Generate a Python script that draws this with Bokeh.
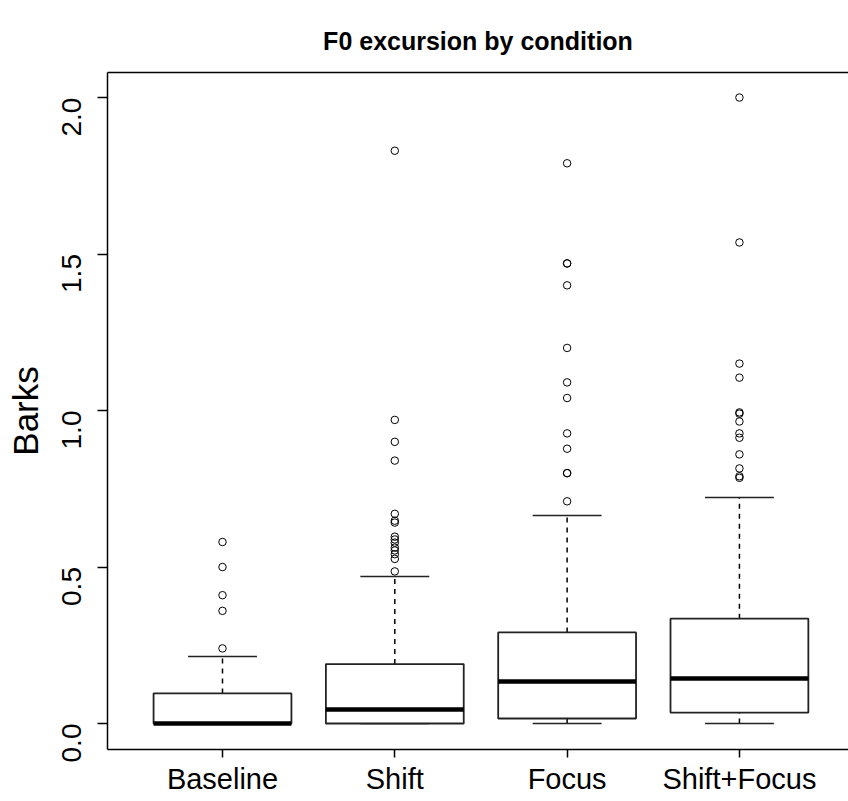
import math
from bokeh.plotting import figure
from bokeh.models import (FixedTicker, PrintfTickFormatter, LinearAxis, Range1d,
                          ColumnDataSource)
from bokeh.embed import file_html
from bokeh.resources import INLINE

# ---- data ----
title_text = "F0 excursion by condition"
categories = ["Baseline", "Shift", "Focus", "Shift+Focus"]
lower_whisker = [0.0, 0.0, 0.0, 0.0]
q1 = [0.0, 0.0, 0.016, 0.035]
median = [0.0, 0.045, 0.134, 0.144]
q3 = [0.096, 0.19, 0.291, 0.335]
upper_whisker = [0.214, 0.47, 0.665, 0.722]

outliers_baseline = [0.58, 0.50, 0.41, 0.36, 0.24]
outliers_shift = [1.83, 0.97, 0.90, 0.84, 0.67, 0.648, 0.642, 0.597, 0.588,
                  0.578, 0.562, 0.553, 0.541, 0.526, 0.486]
outliers_focus = [1.79, 1.47, 1.47, 1.40, 1.20, 1.09, 1.04, 0.927, 0.878,
                  0.80, 0.80, 0.71]
outliers_shiftfocus = [2.0, 1.537, 1.15, 1.105, 0.994, 0.99, 0.965, 0.927,
                       0.913, 0.86, 0.815, 0.79, 0.785]
outliers = [outliers_baseline, outliers_shift, outliers_focus, outliers_shiftfocus]

y_ticks = [0.0, 0.5, 1.0, 1.5, 2.0]

# ---- figure ----
FONT = "Liberation Sans"
p = figure(width=848, height=801, output_backend="svg", toolbar_location=None,
           x_range=Range1d(0.3326, 4.633), y_range=Range1d(-0.083, 2.080),
           min_border_left=107, min_border_right=0, min_border_top=72,
           min_border_bottom=52)
p.grid.visible = False
p.outline_line_color = None
p.background_fill_color = "white"
p.border_fill_color = "white"

p.title.text = title_text
p.title.align = "center"
p.title.vertical_align = "bottom"
p.title.text_font = FONT
p.title.text_font_size = "25px"
p.title.text_font_style = "bold"
p.title.text_color = "black"
p.title.standoff = 36

xs = [i + 1 for i in range(len(categories))]
half = 0.4
cap = 0.2

src = ColumnDataSource(dict(
    x=xs, left=[x - half for x in xs], right=[x + half for x in xs],
    capl=[x - cap for x in xs], capr=[x + cap for x in xs],
    lw=lower_whisker, q1=q1, med=median, q3=q3, uw=upper_whisker))

# whiskers (dashed)
p.segment(x0="x", y0="q3", x1="x", y1="uw", source=src, line_color="black",
          line_width=1.5, line_dash="5 5")
p.segment(x0="x", y0="lw", x1="x", y1="q1", source=src, line_color="black",
          line_width=1.5, line_dash="5 5")
# caps
p.segment(x0="capl", y0="uw", x1="capr", y1="uw", source=src,
          line_color="#222222", line_width=1.5)
p.segment(x0="capl", y0="lw", x1="capr", y1="lw", source=src,
          line_color="#222222", line_width=1.5)
# boxes
p.quad(left="left", right="right", bottom="q1", top="q3", source=src,
       fill_color="white", line_color="#222222", line_width=1.8)
# medians
p.segment(x0="left", y0="med", x1="right", y1="med", source=src,
          line_color="black", line_width=4.5)

# outliers
ox, oy = [], []
for x, vals in zip(xs, outliers):
    for v in vals:
        ox.append(x)
        oy.append(v)
p.scatter(ox, oy, marker="circle", size=7.5, fill_color=None,
          line_color="black", line_width=1)

# axes
xa = p.xaxis[0]
xa.ticker = FixedTicker(ticks=xs)
xa.major_label_overrides = {x: c for x, c in zip(xs, categories)}
xa.major_label_text_font = FONT
xa.major_label_text_font_size = "29px"
xa.major_label_text_color = "black"
xa.major_tick_out = 8
xa.major_tick_in = 0
xa.minor_tick_line_color = None
xa.axis_line_color = "black"
xa.axis_line_width = 1.5
xa.major_tick_line_width = 1.5
xa.major_label_standoff = 5

ya = p.yaxis[0]
ya.ticker = FixedTicker(ticks=y_ticks)
ya.formatter = PrintfTickFormatter(format="%.1f")
ya.major_label_orientation = math.pi / 2
ya.major_label_text_font = FONT
ya.major_label_text_font_size = "28px"
ya.major_label_text_color = "black"
ya.major_tick_out = 10
ya.major_tick_in = 0
ya.minor_tick_line_color = None
ya.axis_line_color = "black"
ya.axis_line_width = 1.5
ya.major_tick_line_width = 1.5
ya.major_label_standoff = 26
ya.axis_label = "Barks"
ya.axis_label_text_font = FONT
ya.axis_label_text_font_size = "35px"
ya.axis_label_text_font_style = "normal"
ya.axis_label_text_color = "black"
ya.axis_label_standoff = 5

# top border line
top = LinearAxis(ticker=FixedTicker(ticks=[]), axis_line_color="black",
                 axis_line_width=1.5, major_label_text_font_size="0px",
                 major_tick_line_color=None, minor_tick_line_color=None)
p.add_layout(top, "above")

open("out.html", "w").write(file_html(p, INLINE))
